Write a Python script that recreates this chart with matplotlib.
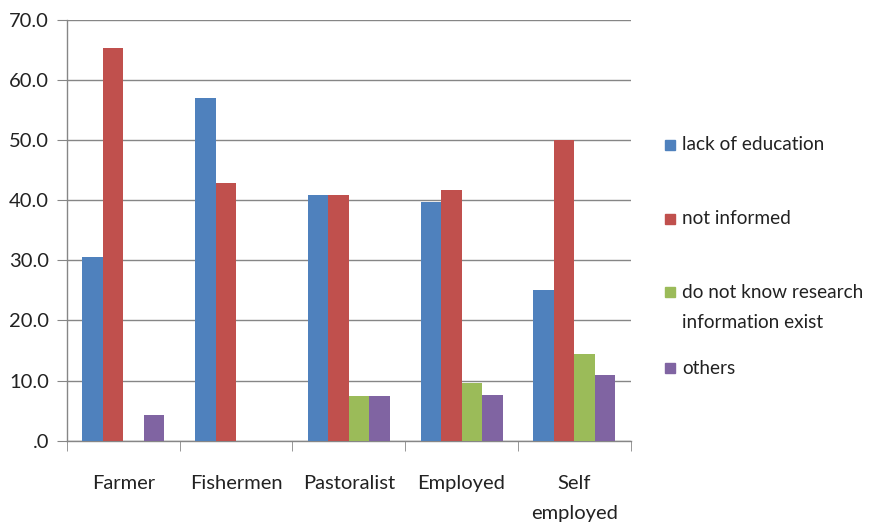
import numpy as np
import matplotlib
matplotlib.use("Agg")
import matplotlib.pyplot as plt
from matplotlib.patches import Rectangle
from matplotlib.ticker import FuncFormatter, MultipleLocator

plt.rcParams['font.family'] = ['Lato', 'DejaVu Sans']

# data (percent)
categories = ['Farmer', 'Fishermen', 'Pastoralist', 'Employed', 'Self\nemployed']
lack_of_education = [30.5, 57.0, 40.8, 39.6, 25.0]
not_informed = [65.3, 42.9, 40.8, 41.6, 50.0]
do_not_know = [0.0, 0.0, 7.4, 9.6, 14.4]
others = [4.3, 0.0, 7.4, 7.6, 10.9]

series_names = ['lack of education', 'not informed',
                'do not know research\ninformation exist', 'others']
colors = ['#4F81BD', '#C0504D', '#9BBB59', '#8064A2']

W, H = 871, 522
fig = plt.figure(figsize=(W / 100, H / 100), dpi=100)
ax = fig.add_axes([0.0769, 0.1557, 0.6471, 0.8069])

x = np.arange(len(categories))
width = 1 / 5.5
series = [lack_of_education, not_informed, do_not_know, others]
for i, (vals, name, c) in enumerate(zip(series, series_names, colors)):
    offs = (i - 1.5) * width
    ax.bar(x + offs, vals, width, color=c, label=name, zorder=3)

ax.set_xlim(-0.5, len(categories) - 0.5)
ax.set_ylim(0, 70)
ax.yaxis.set_major_locator(MultipleLocator(10))
ax.yaxis.set_major_formatter(FuncFormatter(lambda v, p: '.0' if v == 0 else f'{v:.1f}'))
ax.grid(axis='y', color='#868686', linewidth=1, zorder=0)

ax.set_xticks(x)
ax.set_xticklabels(categories, linespacing=1.9)
ax.set_xticks(np.arange(-0.5, len(categories)), minor=True)
ax.tick_params(axis='x', which='major', length=0, pad=25, labelsize=14.5, colors='#222222')
ax.tick_params(axis='x', which='minor', length=7, color='#868686')
ax.tick_params(axis='y', length=7, pad=6, color='#868686', labelsize=14.5, labelcolor='#222222')

for s in ['top', 'right']:
    ax.spines[s].set_visible(False)
for s in ['left', 'bottom']:
    ax.spines[s].set_color('#868686')
    ax.spines[s].set_linewidth(1)

# legend built by hand so the uneven Excel spacing can be matched (pixel coords)
legend_rows = [145, 219, 292, 368]
for name, c, yrow in zip(series_names, colors, legend_rows):
    fig.patches.append(Rectangle(((665) / W, 1 - (yrow + 5) / H), 10 / W, 10 / H,
                                 transform=fig.transFigure, color=c))
    for k, line in enumerate(name.split('\n')):
        fig.text(682 / W, 1 - (yrow + 30 * k) / H, line, fontsize=13.7,
                 color='#222222', va='center')

fig.savefig('out.png', dpi=100)
